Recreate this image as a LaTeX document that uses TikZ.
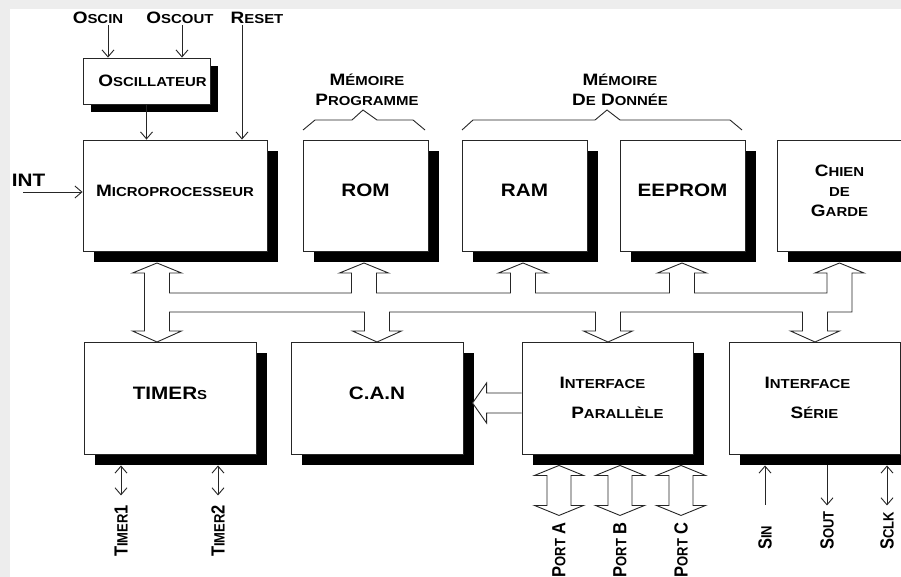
\documentclass[tikz,border=0pt]{standalone}
\usepackage{fontspec}
\newfontfamily\boxfont{Liberation Sans}[FakeStretch=1.15]
\newfontfamily\rotfont{Liberation Sans}
\usetikzlibrary{arrows.meta,shadows,calc}

% small capitals, drawn as smaller upper case
\newcommand\smc[1]{{\fontsize{13}{15}\selectfont #1}}
% bus heads: up towards the top row, down towards the bottom row
\newcommand\tophead[1]{-- (#1-12.5,293) -- (#1-12.5,273) -- (#1-24.5,273) -- (#1,263)
  -- (#1+24.5,273) -- (#1+12.5,273) -- (#1+12.5,293)}
\newcommand\bothead[1]{-- (#1+12.5,312) -- (#1+12.5,331) -- (#1+24.5,331) -- (#1,342)
  -- (#1-24.5,331) -- (#1-12.5,331) -- (#1-12.5,312)}

\begin{document}
\begin{tikzpicture}[x=1pt,y=-1pt,>={Straight Barb[length=7pt,width=12pt]},
    cell/.style={draw=black!85, line width=0.9pt, fill=white, inner sep=0pt,
        align=center, font=\boxfont\bfseries\fontsize{16.5}{20}\selectfont},
    shad/.style={drop shadow={shadow xshift=#1, shadow yshift=-#1,
        fill=black, opacity=1}},
    shad/.default=11pt,
    box/.style={cell, shad, minimum width=125pt, minimum height=111pt},
    wide/.style={minimum width=172pt, minimum height=112pt},
    big/.style={font=\boxfont\bfseries\fontsize{18}{22}\selectfont},
    up/.style={text depth=10pt},
    lbl/.style={inner sep=1pt, align=center,
        font=\boxfont\bfseries\fontsize{16.5}{20}\selectfont},
    vlbl/.style={rotate=90, yscale=1.15, inner sep=1pt,
        font=\rotfont\bfseries\fontsize{16.5}{20}\selectfont},
    sig/.style={line width=0.9pt, draw=black!85},
    hollow/.style={draw=black!85, line width=0.9pt, fill=white, line join=miter},
    brace/.style={draw=black!85, line width=0.9pt}
]
    \useasboundingbox (0,0) rectangle (901,577);
    \clip (0,0) rectangle (901,577);
    \fill[black!7] (0,0) rectangle (901,577);
    \fill[white] (10,9) rectangle (901,577);

    % top row
    \node[cell, shad=8pt, minimum width=127pt, minimum height=46pt] (osc)
        at (146.5,81) {\hspace*{12pt}O\smc{SCILLATEUR}};
    \node[box, up, minimum width=184pt] (micro) at (175,195.5)
        {M\smc{ICROPROCESSEUR}};
    \node[box, big, up] (rom) at (365.5,195.5) {ROM};
    \node[box, big, up] (ram) at (524.5,195.5) {RAM};
    \node[box, big, up] (eeprom) at (682.5,195.5) {EEPROM};
    \node[box, up] (chien) at (839.5,195.5)
        {C\smc{HIEN}\\\smc{DE}\\G\smc{ARDE}};

    % bottom row
    \node[box, big, up, wide] (timers) at (170,398) {TIMER\smc{S}};
    \node[box, big, up, wide] (can) at (377,398) {C.A.N};
    \node[box, wide, minimum width=171pt] (par) at (607.5,398)
        {I\smc{NTERFACE}\hspace*{10pt}\\[10pt]\hspace*{20pt}P\smc{ARALLÈLE}};
    \node[box, wide, minimum width=171pt] (serie) at (814.5,398)
        {I\smc{NTERFACE}\hspace*{14pt}\\[10pt]S\smc{ÉRIE}};

    % labels
    \node[lbl] (oscin) at (98,18) {O\smc{SCIN}};
    \node[lbl] (oscout) at (180,18) {O\smc{SCOUT}};
    \node[lbl] (reset) at (257,18) {R\smc{ESET}};
    \node[lbl, big] (int) at (28.5,180) {INT};
    \node[lbl] (mprog) at (367,90) {M\smc{ÉMOIRE}\\P\smc{ROGRAMME}};
    \node[lbl] (mdata) at (620,90) {M\smc{ÉMOIRE}\\D\smc{E} D\smc{ONNÉE}};
    \node[lbl] (bus) at (511,302)
        {B\smc{US DONNÉES - CONTRÔLE - ADRESSES}};

    \node[vlbl, anchor=west] (timer1) at (121,558) {T\smc{IMER}1};
    \node[vlbl, anchor=west] (timer2) at (218,558) {T\smc{IMER}2};
    \node[vlbl, anchor=east] (porta) at (559,521) {P\smc{ORT} A};
    \node[vlbl, anchor=east] (portb) at (620,521) {P\smc{ORT} B};
    \node[vlbl, anchor=east] (portc) at (681,521) {P\smc{ORT} C};
    \node[vlbl, anchor=west] (sin) at (765,551) {S\smc{IN}};
    \node[vlbl, anchor=west] (sout) at (827,551) {S\smc{OUT}};
    \node[vlbl, anchor=west] (sclk) at (887,551) {S\smc{CLK}};

    % memory braces
    \draw[brace] (303,130) -- (315,120) -- (352,120) -- (363,110)
        -- (377,120) -- (413,120) -- (425,130);
    \draw[brace] (462,130) -- (473,120) -- (595,120) -- (607,110)
        -- (620,120) -- (730,120) -- (742,130);

    % clock, reset and interrupt lines
    \draw[sig,->] ($(oscin.south)+(10,0)$) -- ($(oscin.south |- osc.north)+(10,0)$);
    \draw[sig,->] ($(oscout.south)+(2,0)$) -- ($(oscout.south |- osc.north)+(2,0)$);
    \draw[sig,->] ($(reset.south)+(-15,0)$) -- ($(reset.south |- micro.north)+(-15,0)$);
    \draw[sig,->] (osc.south) -- (osc.south |- micro.north);
    \coordinate (intin) at (23,192);
    \draw[sig,->] (intin) -- (intin -| micro.west);

    % bus
    \draw[hollow] (144.5,331) \tophead{157} \tophead{364} \tophead{523}
        \tophead{682} \tophead{839.5} -- (852,312)
        \bothead{815} \bothead{608} \bothead{377} \bothead{157} -- cycle;

    % parallel interface to C.A.N
    \draw[hollow] ($(par.west)+(0,-5)$) -- ++(-35,0) -- ++(0,-10) -- ++(-14,20)
        -- ++(14,20) -- ++(0,-10) -- ++(35,0);

    % ports
    \foreach \p in {porta,portb,portc}
        \draw[hollow] ($(\p |- par.south)+(0,11)$) -- ++(24.5,10) -- ++(-12.5,0)
            -- ++(0,30) -- ++(12.5,0) -- ++(-24.5,10) -- ++(-24.5,-10)
            -- ++(12.5,0) -- ++(0,-30) -- ++(-12.5,0) -- cycle;

    % timer and serial lines
    \draw[sig,<->] ($(timer1 |- timers.south)+(0,11)$) -- ++(0,30);
    \draw[sig,<->] ($(timer2 |- timers.south)+(0,11)$) -- ++(0,30);
    \draw[sig,<-] ($(sin |- serie.south)+(0,11)$) -- ++(0,40);
    \draw[sig,->] ($(sout |- serie.south)+(0,11)$) -- ++(0,40);
    \draw[sig,<->] ($(sclk |- serie.south)+(0,11)$) -- ++(0,40);
\end{tikzpicture}
\end{document}
